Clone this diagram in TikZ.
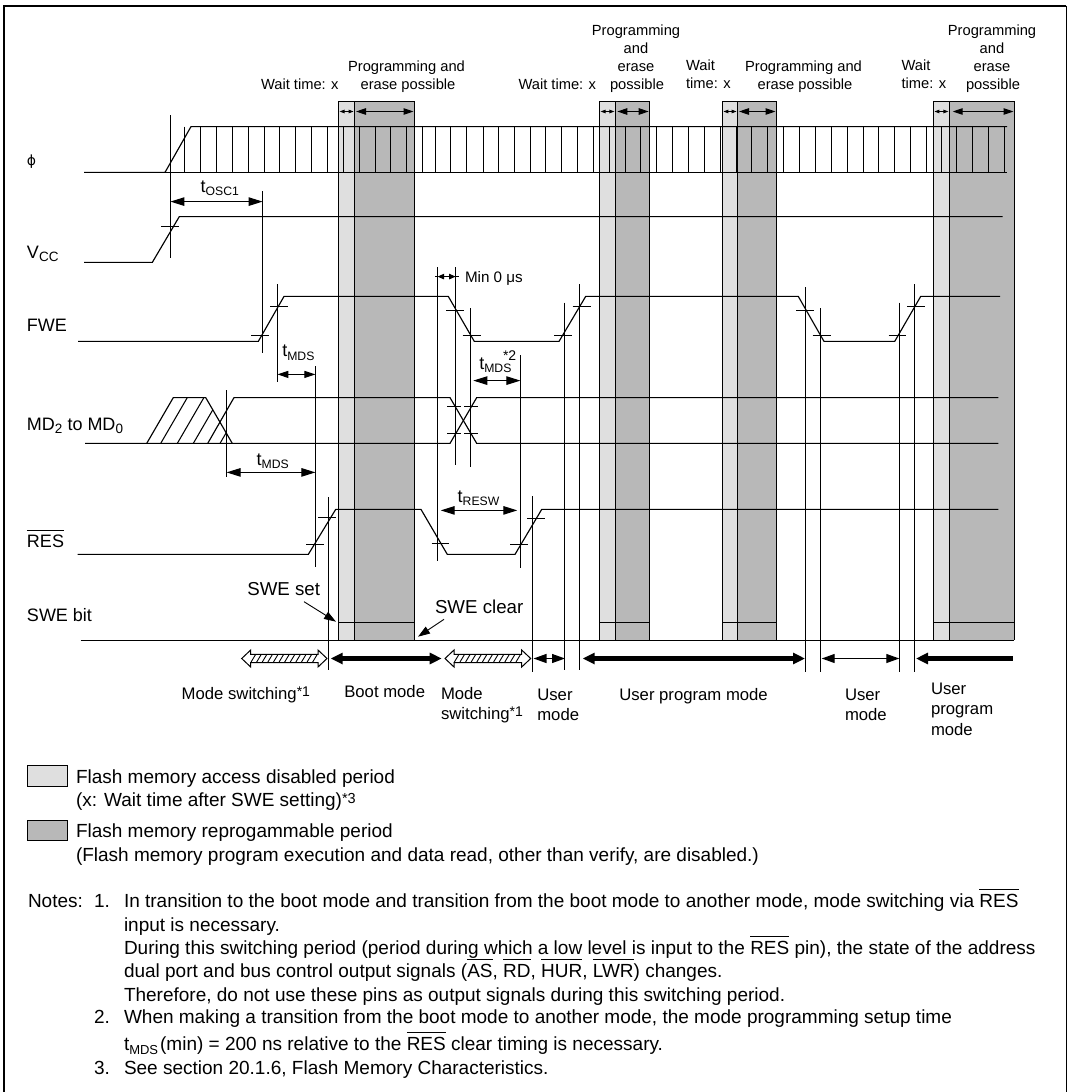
\documentclass[tikz,border=0pt]{standalone}
\usepackage{fontspec}
\setmainfont{Liberation Sans}
\newfontfamily\greekfont{DejaVu Sans}
\usetikzlibrary{arrows.meta}
\newcommand\fs[1]{\fontsize{#1}{#1}\selectfont}
\newbox\ovlbox
\newcommand\ovl[2][0.92em]{\leavevmode\setbox\ovlbox=\hbox{#2}\hbox to \wd\ovlbox{\rlap{\raisebox{#1}{\vrule width\wd\ovlbox height 1pt depth 0pt}}\box\ovlbox}}
\newcommand\tsb[1]{{\fs{18}t\raisebox{-3.4pt}{\fs{12.2}#1}}}
\newcommand\sstar[1]{\raisebox{2.5pt}{\fs{14}*#1}}
\tikzset{
  sig/.style={line width=1.15pt,line join=miter,black},
  tick/.style={line width=1.05pt,black},
  band/.style={line width=1.1pt,draw=black},
  txt/.style={inner sep=0pt,outer sep=0pt,anchor=base west,text=black},
  ctr/.style={inner sep=0pt,outer sep=0pt,anchor=base,text=black},
  toplab/.style={ctr,font=\fs{14.7}},
  topleft/.style={txt,font=\fs{14.7}},
  modelab/.style={txt,font=\fs{16.7}},
  siglab/.style={txt,font=\fs{18}},
  swelab/.style={txt,font=\fs{18.7}},
  notetxt/.style={txt,font=\fs{19}},
  dimarrow/.style={line width=1.05pt,{Triangle[length=14pt,width=8.5pt]}-{Triangle[length=14pt,width=8.5pt]}},
  dimarrowm/.style={line width=1.05pt,{Triangle[length=11pt,width=7pt]}-{Triangle[length=11pt,width=7pt]}},
  bandarrow/.style={line width=1pt,{Triangle[length=10pt,width=6.5pt]}-{Triangle[length=10pt,width=6.5pt]}},
  tinyarrow/.style={line width=0.9pt,{Triangle[length=5pt,width=3.5pt]}-{Triangle[length=5pt,width=3.5pt]}},
  minarrow/.style={line width=1pt,{Triangle[length=6.5pt,width=5.5pt]}-{Triangle[length=6.5pt,width=5.5pt]}},
  leader/.style={line width=0.9pt,-{Triangle[length=12pt,width=8pt]}},
  modethick/.style={line width=5pt,{Triangle[length=12pt,width=11pt]}-{Triangle[length=12pt,width=11pt]}},
  modethin/.style={line width=1.1pt,{Triangle[length=13pt,width=9pt]}-{Triangle[length=13pt,width=9pt]}},
}
\definecolor{lightfill}{gray}{0.875}
\definecolor{darkfill}{gray}{0.72}
\newcommand\hatchdbl[2]{%
  \draw[line width=1pt,fill=white] (#1,658.5) -- (#1+9,650) -- (#1+9,654.3) -- (#2-9,654.3) -- (#2-9,650) -- (#2,658.5) -- (#2-9,667) -- (#2-9,662.7) -- (#1+9,662.7) -- (#1+9,667) -- cycle;
  \foreach \k in {0,...,11} {\draw[line width=0.9pt] ({#1+9+\k*5.6},662.7) -- ({#1+9+\k*5.6+5},654.3);}
}
\newcommand\bandset[3]{%
  \fill[lightfill] (#1,101.5) rectangle (#2,640.4);
  \fill[darkfill] (#2,101.5) rectangle (#3,640.4);
  \draw[band] (#1,640.4) -- (#1,101.5) -- (#3,101.5) -- (#3,640.4);
  \draw[band] (#2,101.5) -- (#2,640.4);
  \draw[band] (#1,622.6) -- (#3,622.6);
  \draw[tinyarrow] (#1+1,111.5) -- (#2-1,111.5);
}
\begin{document}
\begin{tikzpicture}[x=1pt,y=-1pt]
\useasboundingbox (0,0) rectangle (1072,1092);
\fill[white] (0,0) rectangle (1072,1092);
% frame
\draw[line width=2.2pt] (3.8,1092) -- (3.8,5.6) -- (1066.4,5.6);
\draw[line width=1.1pt] (1066.4,5.6) -- (1066.4,1092);
% bands
\bandset{338.6}{354.6}{414.4}
\bandset{599.6}{615.4}{649.6}
\bandset{722.4}{737.6}{776.4}
\bandset{933.4}{949.4}{1014.4}
\draw[bandarrow] (356,111.5) -- (413.5,111.5);
\draw[bandarrow] (617.3,111.5) -- (648.7,111.5);
\draw[bandarrow] (739,111.5) -- (775.5,111.5);
\draw[bandarrow] (952.7,111.5) -- (1013.5,111.5);
% phi
\draw[sig] (84,172.4) -- (165,172.4) -- (191,126.6) -- (1007,126.6);
\draw[sig] (165,172.4) -- (1007,172.4);
\foreach \x in {184.4,200.4,216.4,232.4,248.4,264.4,279.6,295.4,311.6,327.4,343.4,359.4,375.4,390.6,406.6,422.4,435.4,450.6,466.6,483.4,498.4,514.4,530.4,545.4,561.6,577.4,593.4,609.4,625.4,640.6,656.6,672.4,688.4,704.4,720.4,736.4,751.6,767.6,783.4,799.4,815.4,831.4,847.4,863.4,878.6,894.4,910.4,926.4,941.4,956.6,972.6,988.6,1004.6}
  {\draw[tick] (\x,126.6) -- (\x,172.4);}
% Vcc
\draw[sig] (84,262.4) -- (152.3,262.4) -- (179.3,216.6) -- (1002.7,216.6);
\draw[tick] (170.4,115) -- (170.4,258.3);
\draw[tick] (161,226.6) -- (179,226.6);
\draw[dimarrow] (170.4,201.6) -- (262.6,201.6);
\draw[tick] (262.6,191) -- (262.6,352.7);
% FWE
\draw[sig] (78,341.4) -- (258.3,341.4) -- (284,296.4) -- (448.3,296.4) -- (474.3,341.4) -- (559,341.4) -- (585.7,296.4) -- (798.3,296.4) -- (824,341.4) -- (894.7,341.4) -- (920.7,296.4) -- (1000,296.4);
\draw[tick] (251,335.4) -- (268.7,335.4);
\draw[tick] (270,306.6) -- (287.7,306.6);
\draw[tick] (277.4,284.3) -- (277.4,382.3);
\draw[dimarrowm] (277.4,374.4) -- (315.4,374.4);
\draw[tick] (315.4,366) -- (315.4,567.3);
\draw[tick] (437.6,267.3) -- (437.6,561);
\draw[tick] (455.6,267.3) -- (455.6,465);
\draw[minarrow] (437.6,276.6) -- (455.6,276.6);
\draw[tick] (437.6,276.6) -- (435,276.6);
\draw[tick] (455.6,276.6) -- (458.5,276.6);
\draw[tick] (446,310.4) -- (464,310.4);
\draw[tick] (462.7,335.4) -- (480.7,335.4);
\draw[tick] (470.4,308) -- (470.4,467);
\draw[dimarrow] (473.3,380.6) -- (520.4,380.6);
\draw[tick] (520.4,355) -- (520.4,567.7);
\draw[tick] (554,335.4) -- (571.7,335.4);
\draw[tick] (572.7,306.6) -- (590.7,306.6);
\draw[tick] (564.4,302.7) -- (564.4,670);
\draw[tick] (579.4,284) -- (579.4,670);
\draw[tick] (796,310.4) -- (814,310.4);
\draw[tick] (812.7,335.4) -- (830.7,335.4);
\draw[tick] (805.4,287.3) -- (805.4,672);
\draw[tick] (820.4,308) -- (820.4,672);
\draw[tick] (888.7,335.4) -- (906,335.4);
\draw[tick] (907.3,306.6) -- (925.3,306.6);
\draw[tick] (899.5,302.7) -- (899.5,672);
\draw[tick] (914.4,284.3) -- (914.4,672);
% MD
\begin{scope}
  \clip (146.7,443.4) -- (173.3,397.6) -- (205.7,397.6) -- (232.3,443.4) -- cycle;
  \foreach \x in {160.7,177.3,193.3,220}
    {\draw[tick] (\x,443.4) -- (\x+26.6,397.6);}
\end{scope}
\draw[sig] (146.7,443.4) -- (173.3,397.6) -- (205.7,397.6) -- (232.3,443.4);
\draw[sig] (207.7,443.4) -- (234,397.6) -- (450,397.6) -- (476.7,443.4) -- (998.3,443.4);
\draw[sig] (85,443.4) -- (450,443.4) -- (476.7,397.6) -- (998.3,397.6);
\draw[tick] (226.6,390) -- (226.6,477.3);
\draw[dimarrow] (226.6,472.4) -- (315.4,472.4);
\draw[tick] (447.3,406.4) -- (461,406.4);
\draw[tick] (464.3,406.4) -- (478,406.4);
\draw[tick] (447.3,433.6) -- (461,433.6);
\draw[tick] (464.3,433.6) -- (478,433.6);
% RES
\draw[sig] (77.7,554.4) -- (308.3,554.4) -- (335.7,509.4) -- (421,509.4) -- (447.3,554.4) -- (515,554.4) -- (541.7,509.4) -- (998.3,509.4);
\draw[tick] (306,544.4) -- (323.7,544.4);
\draw[tick] (318.3,517.4) -- (336,517.4);
\draw[tick] (328.4,497.3) -- (328.4,670);
\draw[tick] (431.7,543.4) -- (449,543.4);
\draw[tick] (510,544.4) -- (527.7,544.4);
\draw[tick] (527.3,518.4) -- (545.3,518.4);
\draw[tick] (532.6,496) -- (532.6,671.7);
\draw[dimarrow] (440.7,510.4) -- (517.3,510.4);
% SWE
\draw[sig] (80.7,640.4) -- (1014.4,640.4);
\draw[leader] (304,601.7) -- (336,621.7);
\draw[leader] (444,619.3) -- (418,636.7);
% mode arrows
\hatchdbl{241.7}{327}
\hatchdbl{445}{530.7}
\draw[modethick] (330.7,658.5) -- (441.7,658.5);
\draw[modethin] (533.5,658.5) -- (565,658.5);
\draw[modethick] (582.7,658.5) -- (805,658.5);
\draw[modethin] (821.7,658.5) -- (899.3,658.5);
\draw[line width=5pt,{Triangle[length=12pt,width=11pt]}-] (916,658.5) -- (1012.7,658.5);
% top labels
\node[topleft] (w1) at (261,89.3) {Wait time: x};
\node[toplab] (p1a) at (406.5,71.7) {Programming and};
\node[toplab] (p1b) at (408,89.3) {erase possible};
\node[topleft] (w2) at (518.5,89.3) {Wait time: x};
\node[toplab] (p2a) at (636,35.7) {Programming};
\node[toplab] (p2b) at (636,53.3) {and};
\node[toplab] (p2c) at (636,71.7) {erase};
\node[toplab] (p2d) at (637,89.3) {possible};
\node[topleft] (w3a) at (686,70.3) {Wait};
\node[topleft] (w3b) at (686,88.3) {time: x};
\node[toplab] (p3a) at (803.5,71.7) {Programming and};
\node[toplab] (p3b) at (805,89.3) {erase possible};
\node[topleft] (w4a) at (901.5,70.3) {Wait};
\node[topleft] (w4b) at (901.5,88.3) {time: x};
\node[toplab] (p4a) at (992,35.7) {Programming};
\node[toplab] (p4b) at (992,53.3) {and};
\node[toplab] (p4c) at (992,71.7) {erase};
\node[toplab] (p4d) at (993,89.3) {possible};
% signal labels
\node[siglab,font=\fs{14}\greekfont] (lphi) at (27,165) {ϕ};
\node[siglab] (lvcc) at (27,258) {V\raisebox{-3.4pt}{\fs{13.5}CC}};
\node[siglab] (lfwe) at (27,331.7) {FWE};
\node[siglab] (lmd) at (27,430) {MD\raisebox{-3.4pt}{\fs{13.5}2} to MD\raisebox{-3.4pt}{\fs{13.5}0}};
\node[siglab] (lres) at (27,547.5) {\ovl[0.91em]{RES}};
\node[siglab] (lswe) at (27,621.7) {SWE bit};
% timing labels
\node[txt] (tosc) at (200.7,192.5) {\tsb{OSC1}};
\node[txt] (tmds1) at (282.3,356.7) {\tsb{MDS}};
\node[txt] (tmds2) at (256.7,465) {\tsb{MDS}};
\node[txt] (tmds3) at (479.3,369) {\tsb{MDS}};
\node[txt,font=\fs{14}] (star2) at (503,360) {*2};
\node[txt] (tresw) at (457.7,502.3) {\tsb{RESW}};
\node[txt,font=\fs{15.2}] (min0) at (465,282) {Min 0 μs};
\node[swelab] (sset) at (247.3,595) {SWE set};
\node[swelab] (sclr) at (435,613.3) {SWE clear};
% mode labels
\node[modelab] (m1) at (181.7,699.3) {Mode switching\sstar{1}};
\node[modelab] (m2) at (344.3,697.3) {Boot mode};
\node[modelab] (m3a) at (441,699.3) {Mode};
\node[modelab] (m3b) at (441,719.3) {switching\sstar{1}};
\node[modelab] (m4a) at (537.3,700) {User};
\node[modelab] (m4b) at (537.3,720) {mode};
\node[modelab] (m5) at (619.3,700) {User program mode};
\node[modelab] (m6a) at (845,700) {User};
\node[modelab] (m6b) at (845,720) {mode};
\node[modelab] (m7a) at (931,694) {User};
\node[modelab] (m7b) at (931,714.5) {program};
\node[modelab] (m7c) at (931,735) {mode};
% legend
\draw[line width=1.1pt,fill=lightfill] (27.4,765.6) rectangle (67.4,786.4);
\draw[line width=1.1pt,fill=darkfill] (27.4,820.4) rectangle (67.4,840.4);
\node[notetxt] (l1a) at (76,783.3) {Flash memory access disabled period};
\node[notetxt] (l1b) at (76,806.7) {(x: Wait time after SWE setting)\raisebox{3pt}{\fs{14.5}*3}};
\node[notetxt] (l2a) at (76,837.7) {Flash memory reprogammable period};
\node[notetxt] (l2b) at (76,861) {(Flash memory program execution and data read, other than verify, are disabled.)};
% notes
\node[notetxt] (nn) at (28,907.7) {Notes:};
\node[notetxt] (n1) at (94,907.7) {1.};
\node[notetxt] (n1a) at (124,907.7) {In transition to the boot mode and transition from the boot mode to another mode, mode switching via \ovl{RES}};
\node[notetxt] (n1b) at (124,931) {input is necessary.};
\node[notetxt] (n1c) at (124,954.3) {During this switching period (period during which a low level is input to the \ovl{RES} pin), the state of the address};
\node[notetxt] (n1d) at (124,977.5) {dual port and bus control output signals (\ovl{AS}, \ovl{RD}, \ovl{HUR}, \ovl{LWR}) changes.};
\node[notetxt] (n1e) at (124,1001) {Therefore, do not use these pins as output signals during this switching period.};
\node[notetxt] (n2) at (94,1023.7) {2.};
\node[notetxt] (n2a) at (124,1023.7) {When making a transition from the boot mode to another mode, the mode programming setup time};
\node[notetxt] (n2b) at (124,1050.7) {t\raisebox{-4pt}{\fs{13}MDS}\hspace{2pt}(min) = 200 ns relative to the \ovl{RES} clear timing is necessary.};
\node[notetxt] (n3) at (94,1074) {3.};
\node[notetxt] (n3a) at (124,1074) {See section 20.1.6, Flash Memory Characteristics.};
\end{tikzpicture}
\end{document}
